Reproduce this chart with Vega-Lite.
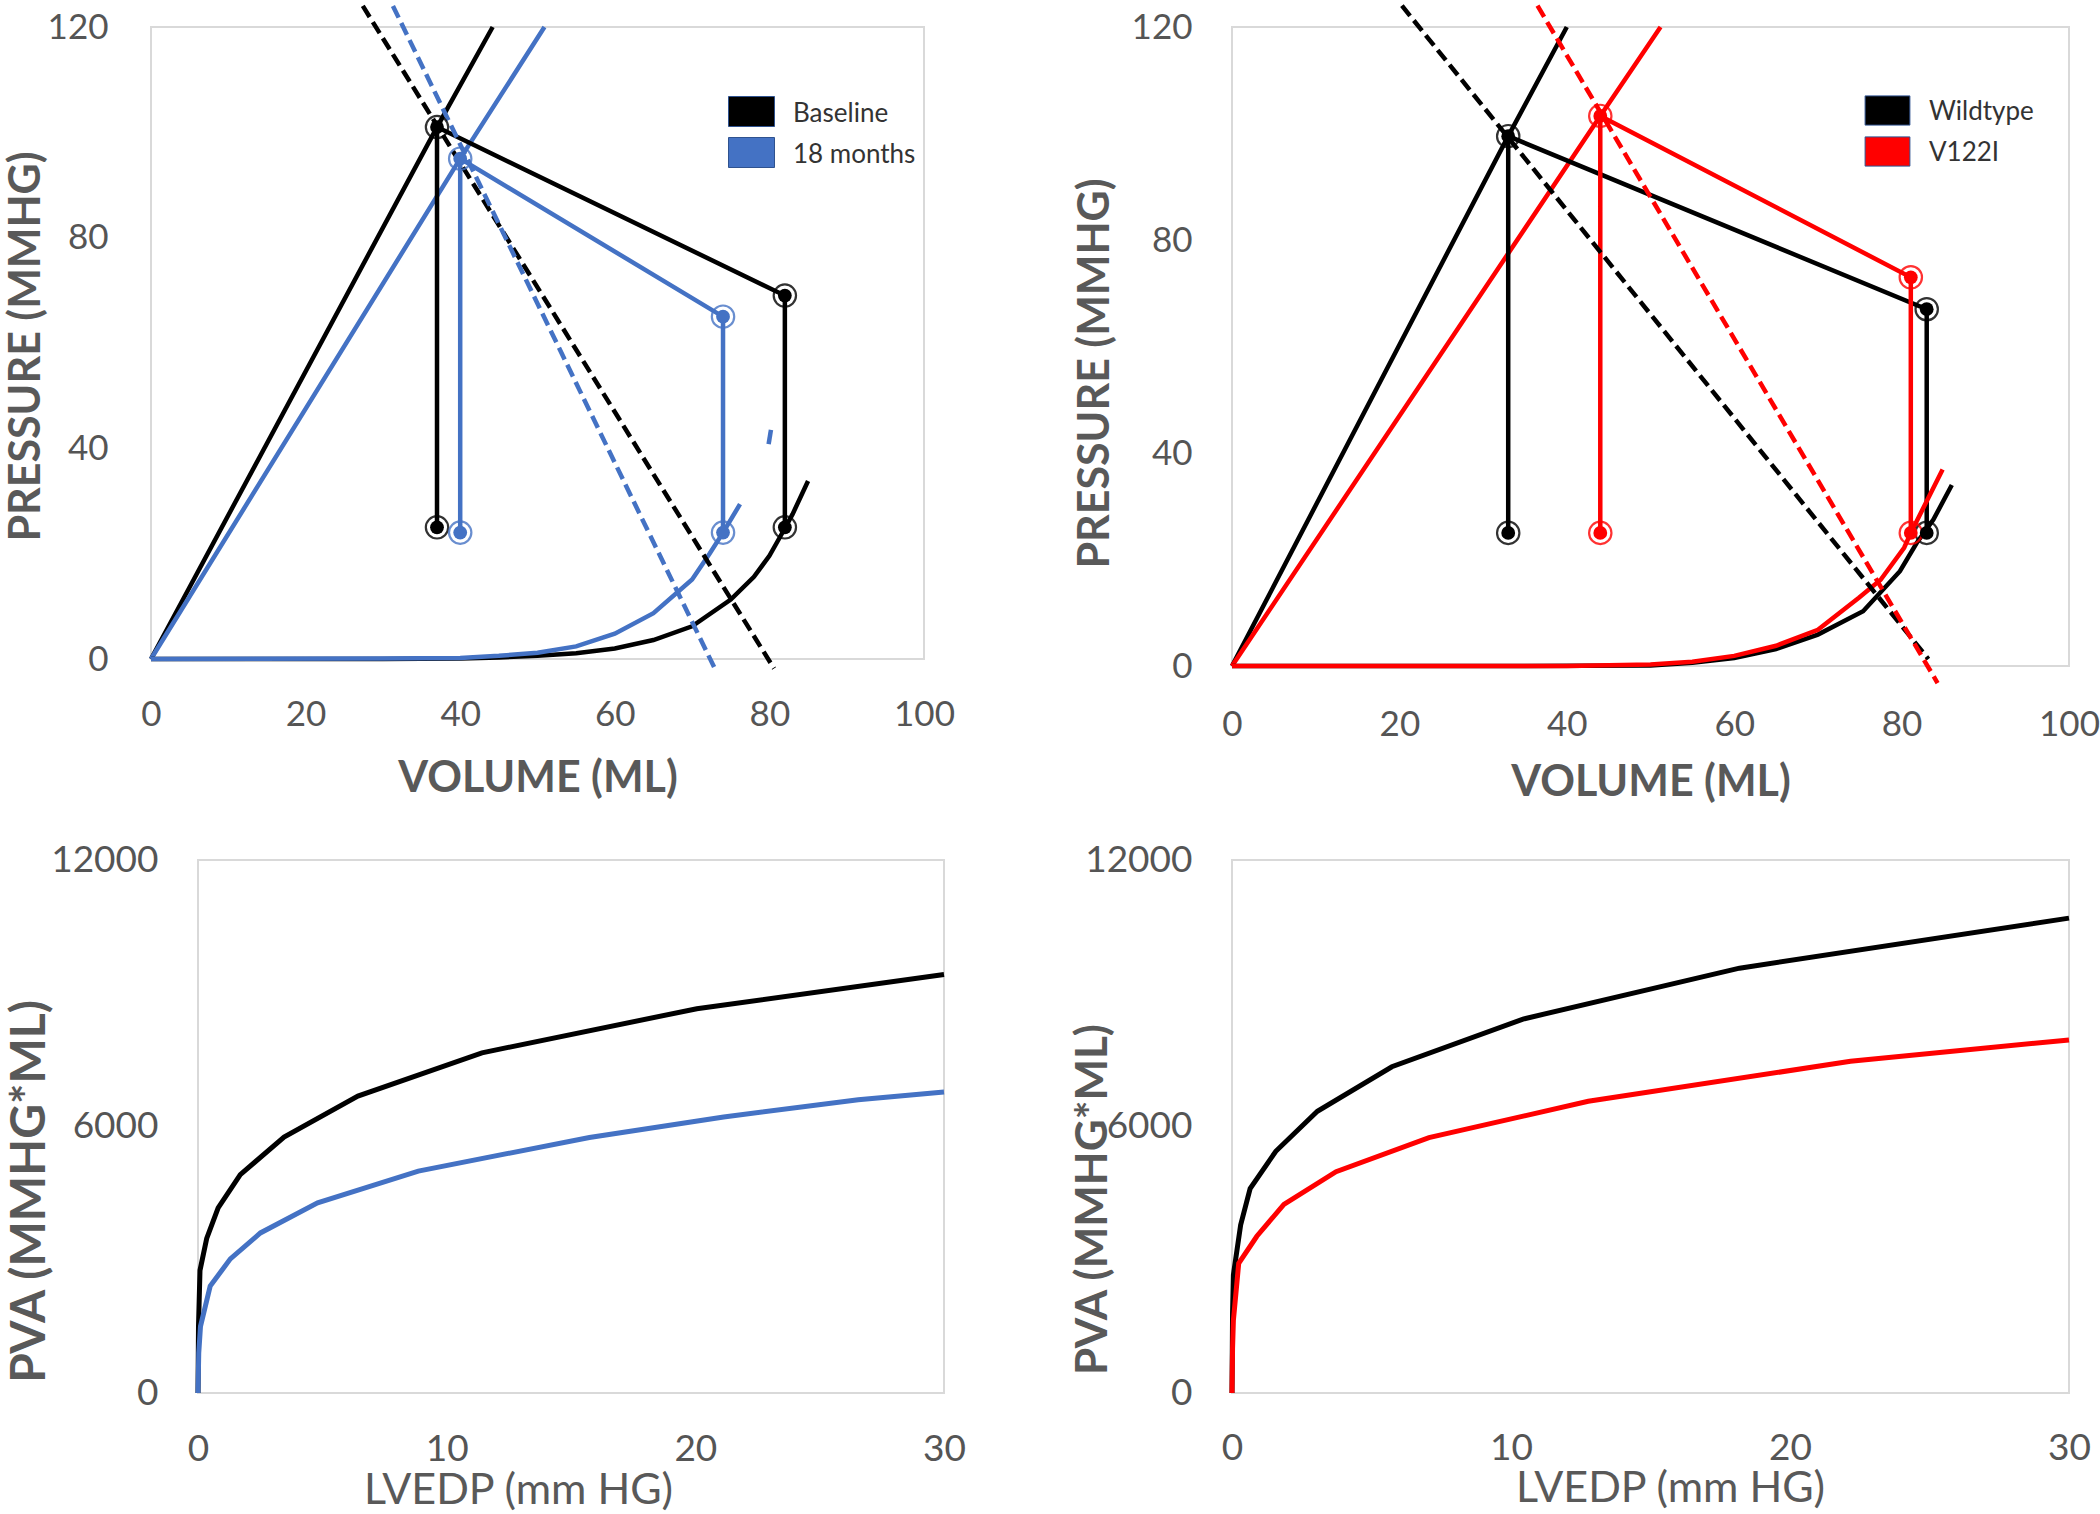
{
  "$schema": "https://vega.github.io/schema/vega-lite/v6.json",
  "padding": {"left": 4, "top": -5, "right": 0, "bottom": 0},
  "background": "white",
  "config": {
    "view": {"stroke": "#D9D9D9", "strokeWidth": 2},
    "font": "Lato",
    "axis": {"grid": false, "domain": false, "ticks": false, "tickSize": 0, "labelFont": "Lato", "labelColor": "#555555", "labelFontSize": 35, "labelFlush": false, "labelOverlap": false, "labelBound": false, "titleFont": "Lato", "titleColor": "#595959", "titleFontWeight": "bold", "titleFontSize": 43, "titleBaseline": "alphabetic", "titleAlign": "center"},
    "legend": {"labelFont": "Lato", "labelFontSize": 26, "labelColor": "#333333", "labelOffset": 21, "padding": 0, "rowPadding": 3}
  },
  "datasets": {
    "tl": [
      {"s": "Baseline", "part": "espvr", "o": 1, "v": 0, "p": 0},
      {"s": "Baseline", "part": "espvr", "o": 2, "v": 37, "p": 101},
      {"s": "Baseline", "part": "espvr", "o": 3, "v": 44.2, "p": 120},
      {"s": "18 months", "part": "espvr", "o": 1, "v": 0, "p": 0},
      {"s": "18 months", "part": "espvr", "o": 2, "v": 40, "p": 95},
      {"s": "18 months", "part": "espvr", "o": 3, "v": 50.9, "p": 120},
      {"s": "Baseline", "part": "loop", "o": 1, "v": 37, "p": 25},
      {"s": "Baseline", "part": "loop", "o": 2, "v": 37, "p": 101},
      {"s": "Baseline", "part": "loop", "o": 3, "v": 82, "p": 69},
      {"s": "Baseline", "part": "loop", "o": 4, "v": 82, "p": 25},
      {"s": "18 months", "part": "loop", "o": 1, "v": 40, "p": 24},
      {"s": "18 months", "part": "loop", "o": 2, "v": 40, "p": 95},
      {"s": "18 months", "part": "loop", "o": 3, "v": 74, "p": 65},
      {"s": "18 months", "part": "loop", "o": 4, "v": 74, "p": 24},
      {"s": "Baseline", "part": "edpvr", "o": 1, "v": 0, "p": 0},
      {"s": "Baseline", "part": "edpvr", "o": 2, "v": 30, "p": 0},
      {"s": "Baseline", "part": "edpvr", "o": 3, "v": 40, "p": 0.1},
      {"s": "Baseline", "part": "edpvr", "o": 4, "v": 45, "p": 0.3},
      {"s": "Baseline", "part": "edpvr", "o": 5, "v": 50, "p": 0.6},
      {"s": "Baseline", "part": "edpvr", "o": 6, "v": 55, "p": 1.1},
      {"s": "Baseline", "part": "edpvr", "o": 7, "v": 60, "p": 2.0},
      {"s": "Baseline", "part": "edpvr", "o": 8, "v": 65, "p": 3.6},
      {"s": "Baseline", "part": "edpvr", "o": 9, "v": 70, "p": 6.2},
      {"s": "Baseline", "part": "edpvr", "o": 10, "v": 75, "p": 11.3},
      {"s": "Baseline", "part": "edpvr", "o": 11, "v": 78, "p": 15.6},
      {"s": "Baseline", "part": "edpvr", "o": 12, "v": 80, "p": 19.6},
      {"s": "Baseline", "part": "edpvr", "o": 13, "v": 81.5, "p": 23.5},
      {"s": "Baseline", "part": "edpvr", "o": 14, "v": 83, "p": 27.5},
      {"s": "Baseline", "part": "edpvr", "o": 15, "v": 85, "p": 33.8},
      {"s": "18 months", "part": "edpvr", "o": 1, "v": 0, "p": 0},
      {"s": "18 months", "part": "edpvr", "o": 2, "v": 30, "p": 0.1},
      {"s": "18 months", "part": "edpvr", "o": 3, "v": 40, "p": 0.2},
      {"s": "18 months", "part": "edpvr", "o": 4, "v": 45, "p": 0.6},
      {"s": "18 months", "part": "edpvr", "o": 5, "v": 50, "p": 1.2},
      {"s": "18 months", "part": "edpvr", "o": 6, "v": 55, "p": 2.4},
      {"s": "18 months", "part": "edpvr", "o": 7, "v": 60, "p": 4.8},
      {"s": "18 months", "part": "edpvr", "o": 8, "v": 65, "p": 8.7},
      {"s": "18 months", "part": "edpvr", "o": 9, "v": 70, "p": 15.1},
      {"s": "18 months", "part": "edpvr", "o": 10, "v": 72.3, "p": 20.1},
      {"s": "18 months", "part": "edpvr", "o": 11, "v": 74, "p": 24},
      {"s": "18 months", "part": "edpvr", "o": 12, "v": 76.2, "p": 29.4},
      {"s": "18 months", "part": "blip", "o": 1, "v": 79.9, "p": 40.8},
      {"s": "18 months", "part": "blip", "o": 2, "v": 80.2, "p": 43.5},
      {"s": "Baseline", "part": "ea", "o": 1, "v": 27.4, "p": 124},
      {"s": "Baseline", "part": "ea", "o": 2, "v": 80.6, "p": -1.8},
      {"s": "18 months", "part": "ea", "o": 1, "v": 31.3, "p": 124},
      {"s": "18 months", "part": "ea", "o": 2, "v": 72.9, "p": -1.7}
    ],
    "tr": [
      {"s": "Wildtype", "part": "espvr", "o": 1, "v": 0, "p": 0},
      {"s": "Wildtype", "part": "espvr", "o": 2, "v": 33, "p": 99.5},
      {"s": "Wildtype", "part": "espvr", "o": 3, "v": 40, "p": 120},
      {"s": "V122I", "part": "espvr", "o": 1, "v": 0, "p": 0},
      {"s": "V122I", "part": "espvr", "o": 2, "v": 44, "p": 103.3},
      {"s": "V122I", "part": "espvr", "o": 3, "v": 51.2, "p": 120},
      {"s": "Wildtype", "part": "loop", "o": 1, "v": 33, "p": 25},
      {"s": "Wildtype", "part": "loop", "o": 2, "v": 33, "p": 99.5},
      {"s": "Wildtype", "part": "loop", "o": 3, "v": 83, "p": 67},
      {"s": "Wildtype", "part": "loop", "o": 4, "v": 83, "p": 25},
      {"s": "V122I", "part": "loop", "o": 1, "v": 44, "p": 25},
      {"s": "V122I", "part": "loop", "o": 2, "v": 44, "p": 103.3},
      {"s": "V122I", "part": "loop", "o": 3, "v": 81.1, "p": 73},
      {"s": "V122I", "part": "loop", "o": 4, "v": 81.1, "p": 25},
      {"s": "Wildtype", "part": "edpvr", "o": 1, "v": 0, "p": 0},
      {"s": "Wildtype", "part": "edpvr", "o": 2, "v": 35, "p": 0},
      {"s": "Wildtype", "part": "edpvr", "o": 3, "v": 50, "p": 0.1},
      {"s": "Wildtype", "part": "edpvr", "o": 4, "v": 55, "p": 0.6},
      {"s": "Wildtype", "part": "edpvr", "o": 5, "v": 60, "p": 1.5},
      {"s": "Wildtype", "part": "edpvr", "o": 6, "v": 65, "p": 3.2},
      {"s": "Wildtype", "part": "edpvr", "o": 7, "v": 70, "p": 5.9},
      {"s": "Wildtype", "part": "edpvr", "o": 8, "v": 75.4, "p": 10.3},
      {"s": "Wildtype", "part": "edpvr", "o": 9, "v": 79.8, "p": 17.8},
      {"s": "Wildtype", "part": "edpvr", "o": 10, "v": 81.8, "p": 23.1},
      {"s": "Wildtype", "part": "edpvr", "o": 11, "v": 83.8, "p": 27.5},
      {"s": "Wildtype", "part": "edpvr", "o": 12, "v": 86, "p": 34},
      {"s": "V122I", "part": "edpvr", "o": 1, "v": 0, "p": 0},
      {"s": "V122I", "part": "edpvr", "o": 2, "v": 40, "p": 0},
      {"s": "V122I", "part": "edpvr", "o": 3, "v": 50, "p": 0.3},
      {"s": "V122I", "part": "edpvr", "o": 4, "v": 55, "p": 0.8},
      {"s": "V122I", "part": "edpvr", "o": 5, "v": 60, "p": 1.9},
      {"s": "V122I", "part": "edpvr", "o": 6, "v": 65, "p": 3.8},
      {"s": "V122I", "part": "edpvr", "o": 7, "v": 70, "p": 6.8},
      {"s": "V122I", "part": "edpvr", "o": 8, "v": 74.9, "p": 12.8},
      {"s": "V122I", "part": "edpvr", "o": 9, "v": 77.5, "p": 16.2},
      {"s": "V122I", "part": "edpvr", "o": 10, "v": 80.3, "p": 22.2},
      {"s": "V122I", "part": "edpvr", "o": 11, "v": 81.1, "p": 25},
      {"s": "V122I", "part": "edpvr", "o": 12, "v": 84.9, "p": 36.9},
      {"s": "Wildtype", "part": "ea", "o": 1, "v": 20.3, "p": 124},
      {"s": "Wildtype", "part": "ea", "o": 2, "v": 83.2, "p": 1.3},
      {"s": "V122I", "part": "ea", "o": 1, "v": 36.5, "p": 124},
      {"s": "V122I", "part": "ea", "o": 2, "v": 84.3, "p": -3.2}
    ],
    "bl": [
      {"s": "Baseline", "o": 1, "x": 0, "y": 0},
      {"s": "Baseline", "o": 2, "x": 0.02, "y": 1500},
      {"s": "Baseline", "o": 3, "x": 0.08, "y": 2760},
      {"s": "Baseline", "o": 4, "x": 0.35, "y": 3480},
      {"s": "Baseline", "o": 5, "x": 0.81, "y": 4170},
      {"s": "Baseline", "o": 6, "x": 1.7, "y": 4915},
      {"s": "Baseline", "o": 7, "x": 3.46, "y": 5764},
      {"s": "Baseline", "o": 8, "x": 6.43, "y": 6686},
      {"s": "Baseline", "o": 9, "x": 11.42, "y": 7659},
      {"s": "Baseline", "o": 10, "x": 20.06, "y": 8652},
      {"s": "Baseline", "o": 11, "x": 30, "y": 9420},
      {"s": "18 months", "o": 1, "x": 0, "y": 0},
      {"s": "18 months", "o": 2, "x": 0.03, "y": 900},
      {"s": "18 months", "o": 3, "x": 0.1, "y": 1500},
      {"s": "18 months", "o": 4, "x": 0.49, "y": 2406},
      {"s": "18 months", "o": 5, "x": 1.3, "y": 3020},
      {"s": "18 months", "o": 6, "x": 2.51, "y": 3604},
      {"s": "18 months", "o": 7, "x": 4.81, "y": 4280},
      {"s": "18 months", "o": 8, "x": 8.86, "y": 4996},
      {"s": "18 months", "o": 9, "x": 15.74, "y": 5754},
      {"s": "18 months", "o": 10, "x": 21.14, "y": 6215},
      {"s": "18 months", "o": 11, "x": 26.55, "y": 6604},
      {"s": "18 months", "o": 12, "x": 30, "y": 6778}
    ],
    "br": [
      {"s": "Wildtype", "o": 1, "x": 0, "y": 0},
      {"s": "Wildtype", "o": 2, "x": 0.02, "y": 1800},
      {"s": "Wildtype", "o": 3, "x": 0.05, "y": 2660},
      {"s": "Wildtype", "o": 4, "x": 0.31, "y": 3785},
      {"s": "Wildtype", "o": 5, "x": 0.65, "y": 4604},
      {"s": "Wildtype", "o": 6, "x": 1.57, "y": 5442},
      {"s": "Wildtype", "o": 7, "x": 3.06, "y": 6343},
      {"s": "Wildtype", "o": 8, "x": 5.73, "y": 7345},
      {"s": "Wildtype", "o": 9, "x": 10.43, "y": 8419},
      {"s": "Wildtype", "o": 10, "x": 18.19, "y": 9565},
      {"s": "Wildtype", "o": 11, "x": 30, "y": 10691},
      {"s": "V122I", "o": 1, "x": 0, "y": 0},
      {"s": "V122I", "o": 2, "x": 0.02, "y": 1000},
      {"s": "V122I", "o": 3, "x": 0.05, "y": 1637},
      {"s": "V122I", "o": 4, "x": 0.24, "y": 2916},
      {"s": "V122I", "o": 5, "x": 0.89, "y": 3529},
      {"s": "V122I", "o": 6, "x": 1.86, "y": 4246},
      {"s": "V122I", "o": 7, "x": 3.73, "y": 4982},
      {"s": "V122I", "o": 8, "x": 7.06, "y": 5749},
      {"s": "V122I", "o": 9, "x": 12.77, "y": 6568},
      {"s": "V122I", "o": 10, "x": 22.17, "y": 7468},
      {"s": "V122I", "o": 11, "x": 30, "y": 7949}
    ]
  },
  "spacing": 35,
  "resolve": {"scale": {"color": "independent", "stroke": "independent", "fill": "independent"}},
  "vconcat": [
    {
      "hconcat": [
        {
          "width": 773, "height": 632,
          "data": {"name": "tl"},
          "encoding": {
            "x": {"field": "v", "type": "quantitative", "scale": {"domain": [0, 100], "nice": false, "zero": false},
                  "axis": {"values": [0, 20, 40, 60, 80, 100], "labelPadding": 38, "title": "VOLUME (ML)", "titleX": 386.5, "titleY": 132}},
            "y": {"field": "p", "type": "quantitative", "scale": {"domain": [0, 120], "nice": false, "zero": false},
                  "axis": {"values": [0, 40, 80, 120], "labelPadding": 43, "title": "PRESSURE (MMHG)", "titleX": -112, "titleY": 319, "titleAngle": 270}}
          },
          "layer": [
            {"transform": [{"filter": "datum.part != 'ea'"}],
             "mark": {"type": "line", "strokeWidth": 4.5, "strokeCap": "butt"},
             "encoding": {"stroke": {"field": "s", "type": "nominal", "scale": {"domain": ["18 months", "Baseline"], "range": ["#4472C4", "#000000"]}, "legend": null},
                          "detail": {"field": "part"}, "order": {"field": "o", "type": "quantitative"}}},
            {"transform": [{"filter": "datum.part == 'ea'"}],
             "mark": {"type": "line", "strokeWidth": 4.5, "strokeDash": [13, 6], "strokeCap": "butt"},
             "encoding": {"stroke": {"field": "s", "type": "nominal", "legend": null},
                          "detail": {"field": "part"}, "order": {"field": "o", "type": "quantitative"}}},
            {"transform": [{"filter": "datum.part == 'loop'"}],
             "mark": {"type": "point", "shape": "circle", "filled": false, "size": 500, "strokeWidth": 2.2, "opacity": 0.8},
             "encoding": {"stroke": {"field": "s", "type": "nominal", "legend": null}}},
            {"transform": [{"filter": "datum.part == 'loop'"}],
             "mark": {"type": "point", "shape": "circle", "filled": true, "size": 190, "opacity": 1},
             "encoding": {"fill": {"field": "s", "type": "nominal", "scale": {"domain": ["Baseline", "18 months"], "range": ["#000000", "#4472C4"]},
                          "legend": {"orient": "none", "legendX": 580, "legendY": 64, "title": null, "symbolType": "M-1.15,-0.75H1.15V0.75H-1.15Z", "symbolSize": 1600, "symbolOpacity": 1, "symbolStrokeColor": "#2F528F", "symbolStrokeWidth": 1,
                                     "encode": {"labels": {"update": {"dy": {"value": 2}}}}}}}}
          ]
        },
        {
          "width": 837, "height": 639,
          "data": {"name": "tr"},
          "encoding": {
            "x": {"field": "v", "type": "quantitative", "scale": {"domain": [0, 100], "nice": false, "zero": false},
                  "axis": {"values": [0, 20, 40, 60, 80, 100], "labelPadding": 41, "title": "VOLUME (ML)", "titleX": 418.5, "titleY": 129}},
            "y": {"field": "p", "type": "quantitative", "scale": {"domain": [0, 120], "nice": false, "zero": false},
                  "axis": {"values": [0, 40, 80, 120], "labelPadding": 40, "title": "PRESSURE (MMHG)", "titleX": -124, "titleY": 346, "titleAngle": 270}}
          },
          "layer": [
            {"transform": [{"filter": "datum.part != 'ea'"}],
             "mark": {"type": "line", "strokeWidth": 4.5, "strokeCap": "butt"},
             "encoding": {"stroke": {"field": "s", "type": "nominal", "scale": {"domain": ["V122I", "Wildtype"], "range": ["#FF0000", "#000000"]}, "legend": null},
                          "detail": {"field": "part"}, "order": {"field": "o", "type": "quantitative"}}},
            {"transform": [{"filter": "datum.part == 'ea'"}],
             "mark": {"type": "line", "strokeWidth": 4.5, "strokeDash": [13, 6], "strokeCap": "butt"},
             "encoding": {"stroke": {"field": "s", "type": "nominal", "legend": null},
                          "detail": {"field": "part"}, "order": {"field": "o", "type": "quantitative"}}},
            {"transform": [{"filter": "datum.part == 'loop'"}],
             "mark": {"type": "point", "shape": "circle", "filled": false, "size": 500, "strokeWidth": 2.2, "opacity": 0.8},
             "encoding": {"stroke": {"field": "s", "type": "nominal", "legend": null}}},
            {"transform": [{"filter": "datum.part == 'loop'"}],
             "mark": {"type": "point", "shape": "circle", "filled": true, "size": 190, "opacity": 1},
             "encoding": {"fill": {"field": "s", "type": "nominal", "scale": {"domain": ["Wildtype", "V122I"], "range": ["#000000", "#FF0000"]},
                          "legend": {"orient": "none", "legendX": 635, "legendY": 63, "title": null, "symbolType": "M-1.12,-0.73H1.12V0.73H-1.12Z", "symbolSize": 1600, "symbolOpacity": 1, "symbolStrokeColor": "#2F528F", "symbolStrokeWidth": 1,
                                     "encode": {"labels": {"update": {"dy": {"value": 1}}}}}}}}
          ]
        }
      ],
      "spacing": 308,
      "bounds": "flush",
      "resolve": {"scale": {"color": "independent", "stroke": "independent", "fill": "independent"}}
    },
    {
      "hconcat": [
        {
          "width": 1, "height": 1,
          "view": {"stroke": null},
          "data": {"values": [{"a": 1}]},
          "mark": {"type": "point", "size": 0, "opacity": 0}
        },
        {
          "hconcat": [
            {
              "width": 746, "height": 533,
              "data": {"name": "bl"},
              "mark": {"type": "line", "strokeWidth": 5},
              "encoding": {
                "x": {"field": "x", "type": "quantitative", "scale": {"domain": [0, 30], "nice": false, "zero": false},
                      "axis": {"values": [0, 10, 20, 30], "labelFontSize": 37, "labelPadding": 38, "title": "LVEDP (mm HG)", "titleFontWeight": "normal", "titleFontSize": 43, "titleX": 320, "titleY": 110}},
                "y": {"field": "y", "type": "quantitative", "scale": {"domain": [0, 12000], "nice": false, "zero": false},
                      "axis": {"values": [0, 6000, 12000], "format": "d", "labelFontSize": 37, "labelPadding": 40, "title": "PVA (MMHG*ML)", "titleFontSize": 48, "titleX": -154, "titleY": 331, "titleAngle": 270}},
                "stroke": {"field": "s", "type": "nominal", "scale": {"domain": ["Baseline", "18 months"], "range": ["#000000", "#4472C4"]}, "legend": null},
                "order": {"field": "o", "type": "quantitative"}
              }
            },
            {
              "width": 837, "height": 533,
              "data": {"name": "br"},
              "mark": {"type": "line", "strokeWidth": 5},
              "encoding": {
                "x": {"field": "x", "type": "quantitative", "scale": {"domain": [0, 30], "nice": false, "zero": false},
                      "axis": {"values": [0, 10, 20, 30], "labelFontSize": 37, "labelPadding": 37, "title": "LVEDP (mm HG)", "titleFontWeight": "normal", "titleFontSize": 43, "titleX": 438, "titleY": 108}},
                "y": {"field": "y", "type": "quantitative", "scale": {"domain": [0, 12000], "nice": false, "zero": false},
                      "axis": {"values": [0, 6000, 12000], "format": "d", "labelFontSize": 37, "labelPadding": 40, "title": "PVA (MMHG*ML)", "titleFontSize": 44, "titleX": -126, "titleY": 339, "titleAngle": 270}},
                "stroke": {"field": "s", "type": "nominal", "scale": {"domain": ["Wildtype", "V122I"], "range": ["#000000", "#FF0000"]}, "legend": null},
                "order": {"field": "o", "type": "quantitative"}
              }
            }
          ],
          "spacing": 288,
          "bounds": "flush",
          "resolve": {"scale": {"color": "independent", "stroke": "independent", "fill": "independent"}}
        }
      ],
      "spacing": 46,
      "bounds": "flush",
      "resolve": {"scale": {"color": "independent", "stroke": "independent", "fill": "independent"}}
    }
  ]
}
